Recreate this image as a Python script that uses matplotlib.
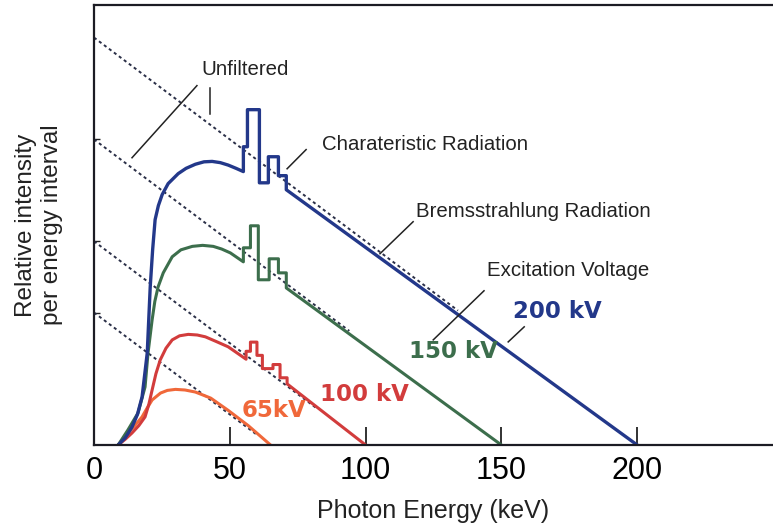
#!/usr/bin/env python3
import matplotlib
matplotlib.use("Agg")
import matplotlib.pyplot as plt

# Filtered spectra (energy keV, relative intensity)
blue_e = [8.9, 11.5, 14.0, 16.0, 17.7, 19.6, 20.7, 21.6, 22.5, 23.7, 25.1, 27.3, 31.0, 33.9, 37.3,
          40.5, 43.5, 46.5, 49.4, 52.3, 55.0, 55.0, 56.5, 56.5,
          60.9, 60.9, 64.2, 64.2, 67.9, 67.9, 70.8, 70.8, 200]
blue_i = [0, 3.5, 8.8, 15.0, 23.6, 45.2, 77.6, 96.0, 110.6, 117.5, 122.9, 128.3, 133.2, 135.8, 137.8,
          139.0, 139.2, 138.6, 137.4, 135.8, 134.2, 146.4, 146.4, 164.6,
          164.6, 128.7, 128.7, 141.5, 141.5, 132.2, 132.2, 125.3, 0]

green_e = [8.9, 12.5, 16.2, 18.8, 19.9, 21.4, 22.4, 23.6, 25.5, 28.8, 32.0, 36.2, 40.0, 43.9, 47.0,
           50.2, 55.0, 55.0, 57.6, 57.6,
           60.5, 60.5, 64.5, 64.5, 67.9, 67.9, 70.8, 70.8, 150]
green_i = [0, 7.4, 15.7, 28.5, 45.2, 61.4, 70.5, 77.6, 84.5, 92.4, 95.8, 97.5, 98.0, 97.5, 96.2,
           94.3, 89.9, 96.8, 96.8, 107.6,
           107.6, 81.1, 81.1, 91.4, 91.4, 84.5, 84.5, 77.1, 0]

red_e = [8.9, 11.5, 14.0, 16.5, 18.8, 20.2, 21.4, 22.8, 24.4, 26.5, 28.8, 31.5, 34.7, 38.0, 41.0,
         45.0, 49.4, 56.0, 56.0, 57.6, 57.6, 60.0, 60.0,
         62.0, 62.0, 65.9, 65.9, 68.5, 68.5, 71.1, 71.1, 100]
red_i = [0, 2.8, 5.9, 9.5, 13.8, 20.0, 27.0, 35.0, 41.8, 47.5, 51.6, 53.6, 54.3, 54.0, 53.1,
         50.8, 48.2, 42.1, 46.0, 46.0, 50.5, 50.5, 44.0,
         44.0, 37.5, 37.5, 39.5, 39.5, 33.0, 33.0, 30.0, 0]

orange_e = [8.9, 12.5, 15.0, 17.7, 19.5, 21.4, 24.5, 27.0, 30.0, 33.5, 37.3, 40.0, 43.0, 49.4, 56.8, 65.0]
orange_i = [0, 5.9, 9.5, 13.8, 18.0, 22.1, 25.5, 26.8, 27.3, 27.0, 26.0, 24.6, 23.0, 17.0, 9.5, 0]

# Unfiltered (dashed) spectra: start and end points
dash_200_e, dash_200_i = [0, 134], [200, 66]
dash_150_e, dash_150_i = [0, 94], [150, 56]
dash_100_e, dash_100_i = [0, 82], [100, 18]
dash_65_e, dash_65_i = [0, 60], [65, 5]

x_ticks = [0, 50, 100, 150, 200]
y_ticks = [65, 100, 150]

BLUE = '#23388a'
GREEN = '#3c6e4c'
RED = '#d23c3c'
ORANGE = '#f0683a'
DOT = '#2b3048'

plt.rcParams['font.family'] = ['Liberation Sans', 'DejaVu Sans']

fig = plt.figure(figsize=(7.73, 5.27), dpi=100)
ax = fig.add_axes([0.1216, 0.1556, 0.8784, 0.835])

for e, i in [(dash_200_e, dash_200_i), (dash_150_e, dash_150_i),
             (dash_100_e, dash_100_i), (dash_65_e, dash_65_i)]:
    ax.plot(e, i, linestyle=(0, (1.6, 1.6)), color=DOT, lw=1.4)

ax.plot(orange_e, orange_i, color=ORANGE, lw=2.2, solid_joinstyle='round')
ax.plot(red_e, red_i, color=RED, lw=2.2, solid_joinstyle='round')
ax.plot(green_e, green_i, color=GREEN, lw=2.2, solid_joinstyle='round')
ax.plot(blue_e, blue_i, color=BLUE, lw=2.4, solid_joinstyle='round')

ax.set_xlim(0, 250)
ax.set_ylim(0, 216)
ax.set_xticks(x_ticks)
ax.set_yticks(y_ticks)
ax.set_yticklabels([])
ax.tick_params(axis='x', direction='in', length=13, width=1.3, labelsize=22, pad=8, color='#222')
ax.tick_params(axis='y', direction='in', length=4, width=1.0, color='#222')
ax.spines['right'].set_visible(False)
for s in ['left', 'top', 'bottom']:
    ax.spines[s].set_linewidth(1.6)
    ax.spines[s].set_color('#1c1c24')

ax.set_xlabel('Photon Energy (keV)', fontsize=18, labelpad=9, color='#222')
ax.set_ylabel('Relative intensity\nper energy interval', fontsize=17.5, labelpad=19,
              color='#222', linespacing=1.2)

# Annotations
ann = dict(fontsize=14.7, color='#222')
ax.text(55.6, 184.3, 'Unfiltered', ha='center', va='center', **ann)
ax.plot([14.0, 37.9], [141.0, 176.4], color='#222', lw=1.1)
ax.plot([42.7, 42.7], [175.4, 162.7], color='#222', lw=1.1)
ax.text(84.0, 147.4, 'Charateristic Radiation', ha='left', va='center', **ann)
ax.plot([71.1, 78.1], [135.6, 145.0], color='#222', lw=1.1)
ax.text(118.6, 114.5, 'Bremsstrahlung Radiation', ha='left', va='center', **ann)
ax.plot([105.3, 117.5], [93.9, 109.6], color='#222', lw=1.1)
ax.text(144.8, 85.5, 'Excitation Voltage', ha='left', va='center', **ann)
ax.plot([124.9, 143.6], [51.6, 75.7], color='#222', lw=1.1)
ax.plot([152.5, 158.4], [50.6, 58.0], color='#222', lw=1.1)

kv = dict(fontsize=16.5, fontweight='bold', ha='center', va='center', family='DejaVu Sans')
ax.text(170.5, 65.4, '200 kV', color=BLUE, **kv)
ax.text(132.2, 45.7, '150 kV', color=GREEN, **kv)
ax.text(99.4, 24.6, '100 kV', color=RED, **kv)
ax.text(66.3, 16.7, '65kV', color=ORANGE, **kv)

fig.savefig('out.png', dpi=100)
